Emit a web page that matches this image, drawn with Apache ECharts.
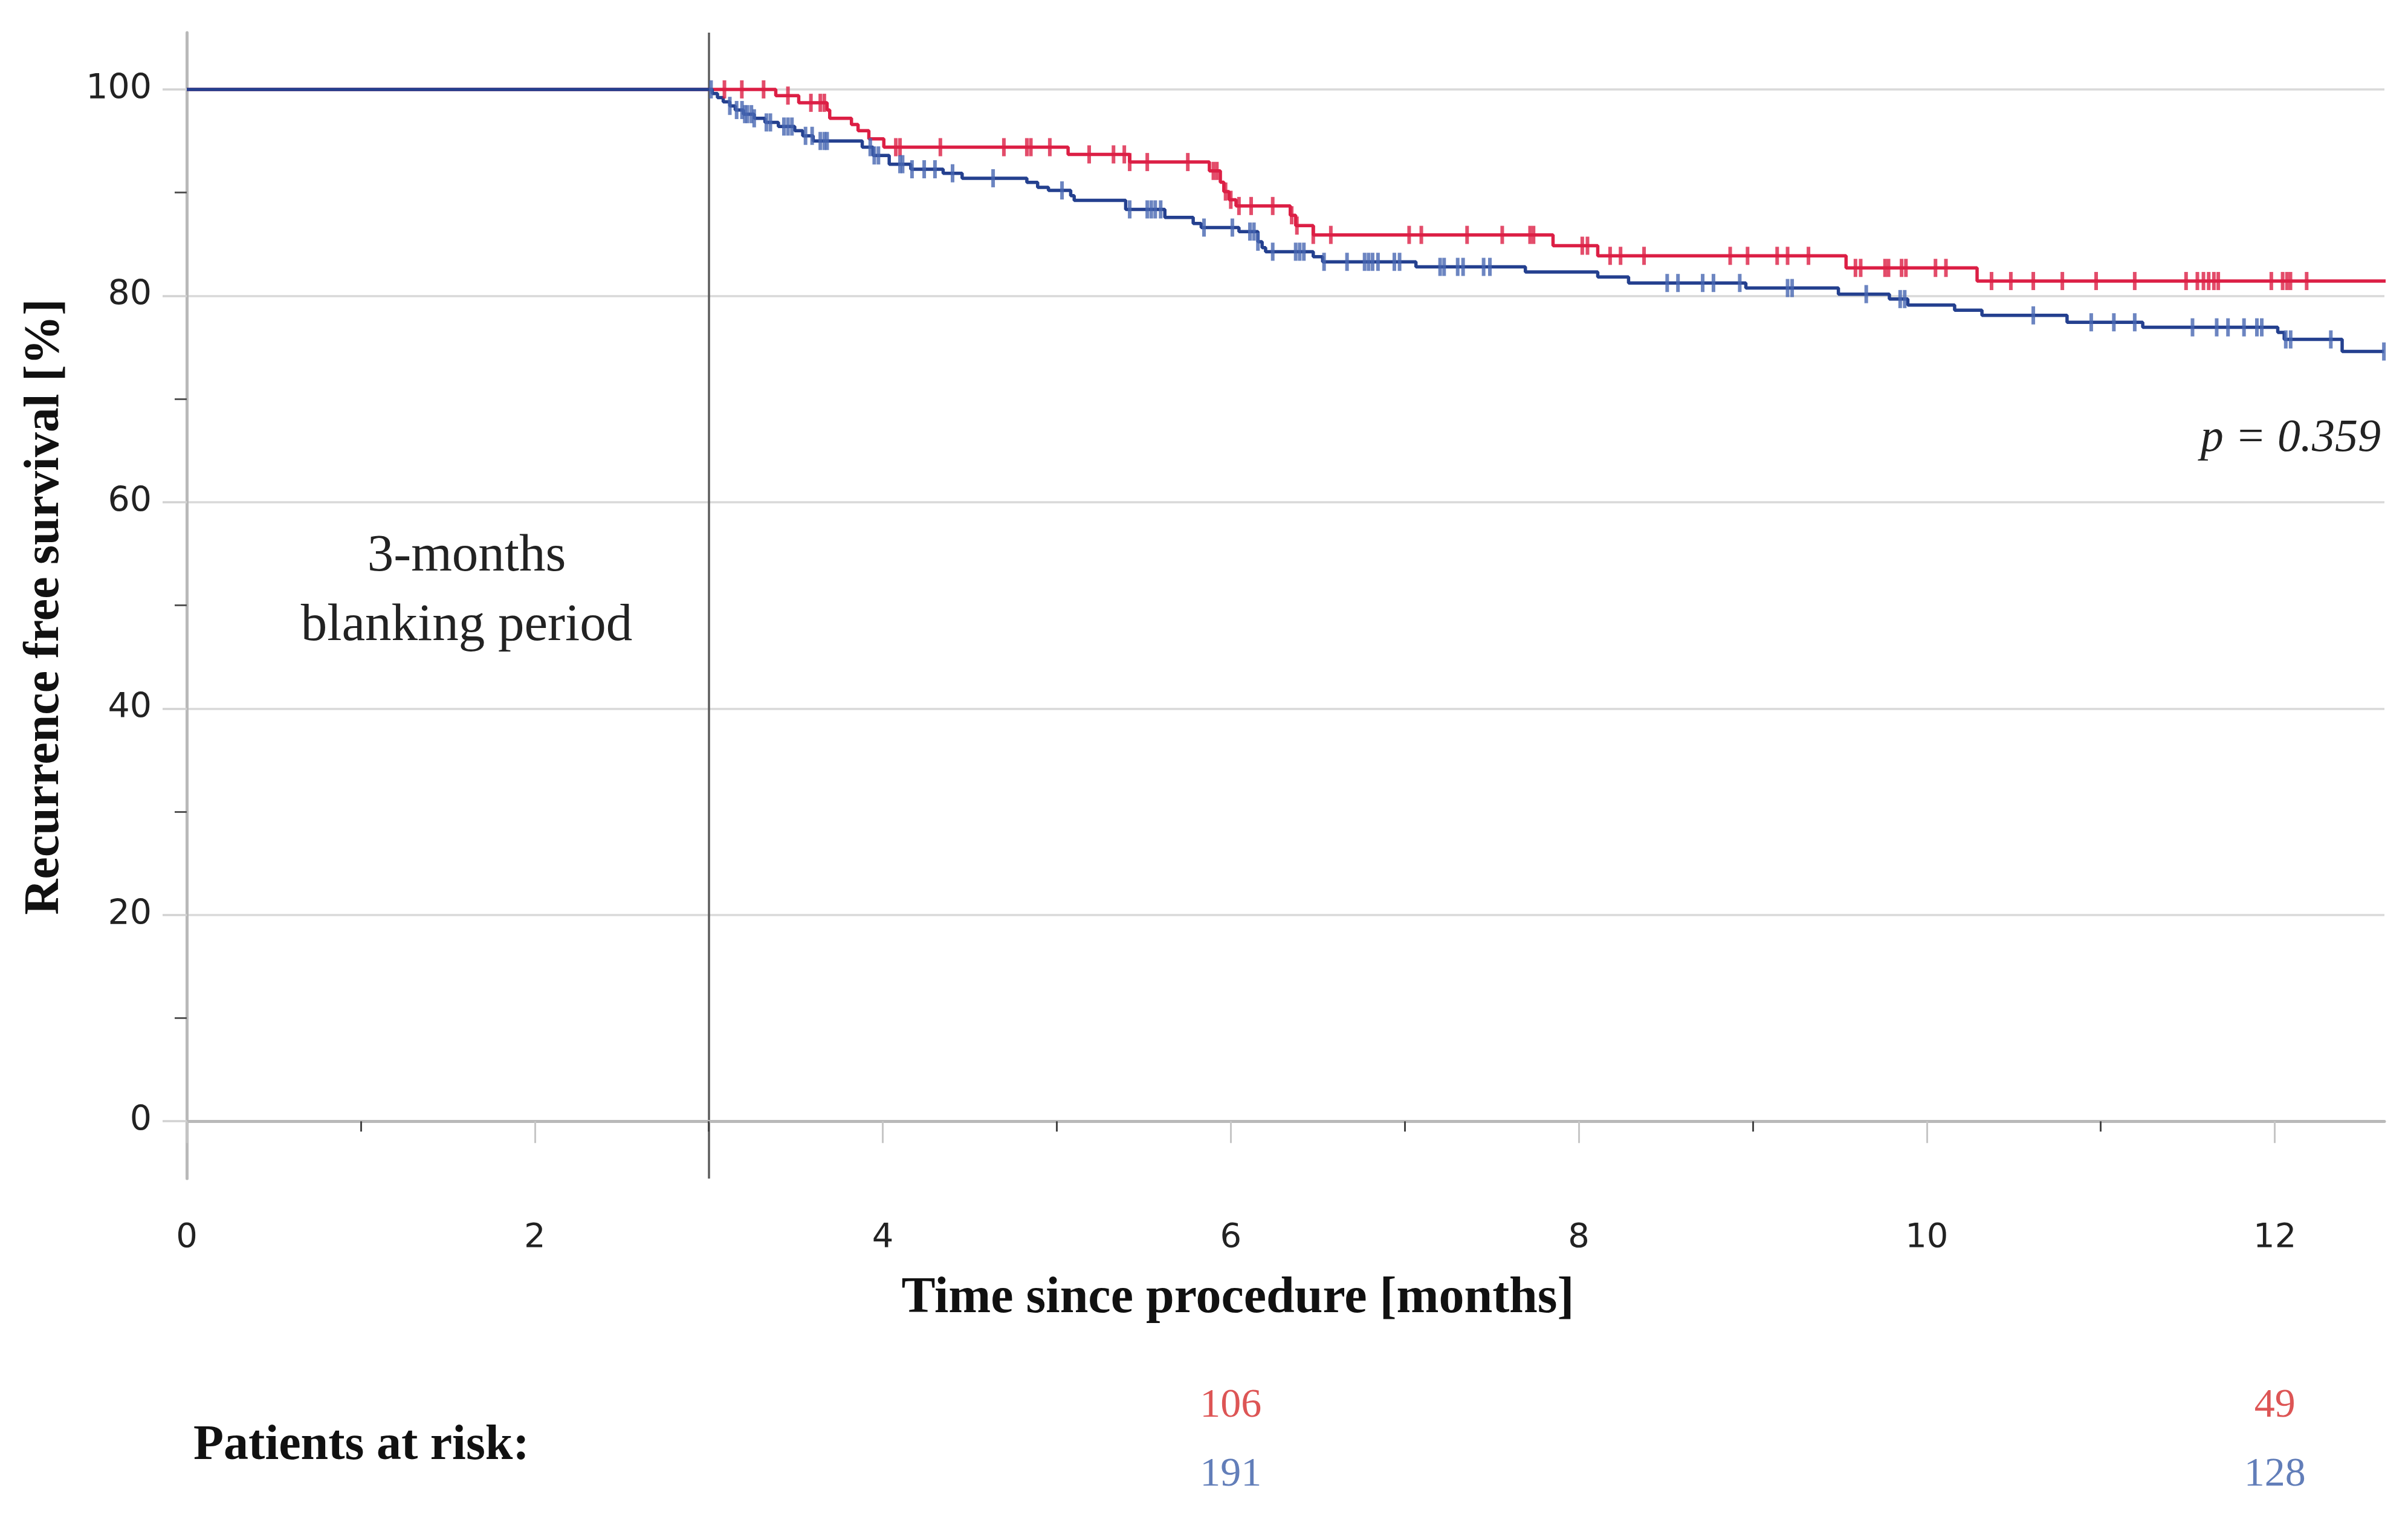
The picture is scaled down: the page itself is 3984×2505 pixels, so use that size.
<!DOCTYPE html>
<html><head><meta charset="utf-8">
<script src="https://cdn.jsdelivr.net/npm/echarts@6/dist/echarts.min.js"></script>
<style>html,body{margin:0;padding:0;background:#fff}#c{width:3984px;height:2505px}</style>
</head><body><div id="c"></div>
<script>
// ---- data ----
const xMajorTicks = [0, 2, 4, 6, 8, 10, 12];
const xMinorTicks = [1, 3, 5, 7, 9, 11];
const yMajorTicks = [0, 20, 40, 60, 80, 100];
const yMinorTicks = [10, 30, 50, 70, 90];
const blankingEnd = 3;

// Kaplan-Meier steps [month, survival % after event]
const redSteps = [
  [0, 100], [3.385, 99.4], [3.517, 98.7], [3.68, 98.0], [3.695, 97.2], [3.82, 96.6],
  [3.858, 96.0], [3.92, 95.2], [4.006, 94.4], [5.065, 93.7], [5.419, 92.96],
  [5.877, 92.1], [5.94, 91.0], [5.96, 90.1], [5.99, 89.3], [6.03, 88.7],
  [6.342, 87.8], [6.373, 86.8], [6.474, 85.9], [7.852, 84.85], [8.109, 83.87],
  [9.536, 82.7], [10.289, 81.43], [12.637, 81.43]
];
const redCensors = [
  3.09, 3.19, 3.315, 3.455, 3.587, 3.641, 3.664, 4.075, 4.099, 4.331, 4.696, 4.828,
  4.851, 4.96, 5.186, 5.326, 5.388, 5.419, 5.52, 5.753, 5.9, 5.92, 5.97, 6.0, 6.047,
  6.117, 6.241, 6.35, 6.38, 6.474, 6.575, 7.025, 7.095, 7.358, 7.56, 7.72, 7.74,
  8.02, 8.05, 8.18, 8.24, 8.375, 8.87, 8.97, 9.14, 9.2, 9.32, 9.59, 9.62, 9.76,
  9.78, 9.855, 9.88, 10.05, 10.11, 10.372, 10.483, 10.612, 10.779, 10.973, 11.195,
  11.49, 11.555, 11.59, 11.62, 11.65, 11.675, 11.98, 12.045, 12.07, 12.09, 12.183, 12.637
];
const blueSteps = [
  [0, 100], [3.02, 99.6], [3.05, 99.2], [3.083, 98.8], [3.121, 98.4], [3.152, 98.0],
  [3.199, 97.6], [3.261, 97.2], [3.323, 96.8], [3.4, 96.4], [3.494, 96.0],
  [3.54, 95.5], [3.6, 95.0], [3.882, 94.4], [3.944, 93.6], [4.037, 92.75],
  [4.161, 92.26], [4.347, 91.87], [4.456, 91.39], [4.828, 90.99], [4.89, 90.51],
  [4.952, 90.21], [5.08, 89.7], [5.1, 89.24], [5.396, 88.37], [5.621, 87.59],
  [5.784, 87.0], [5.83, 86.61], [6.047, 86.22], [6.156, 85.24], [6.18, 84.66],
  [6.2, 84.27], [6.474, 83.78], [6.528, 83.29], [7.064, 82.8], [7.693, 82.31],
  [8.109, 81.82], [8.286, 81.24], [8.96, 80.75], [9.492, 80.16], [9.785, 79.68],
  [9.891, 79.1], [10.16, 78.6], [10.317, 78.1], [10.806, 77.43], [11.241, 76.94],
  [12.017, 76.45], [12.054, 75.77], [12.387, 74.6], [12.627, 74.6]
];
const blueCensors = [
  3.013, 3.121, 3.16, 3.191, 3.207, 3.222, 3.245, 3.261, 3.331, 3.354, 3.432, 3.455,
  3.478, 3.556, 3.594, 3.641, 3.664, 3.68, 3.928, 3.951, 3.975, 4.099, 4.114, 4.168,
  4.238, 4.3, 4.401, 4.634, 5.03, 5.419, 5.52, 5.543, 5.566, 5.597, 5.846, 6.009,
  6.11, 6.133, 6.156, 6.241, 6.373, 6.396, 6.42, 6.536, 6.668, 6.769, 6.792, 6.815,
  6.846, 6.94, 6.97, 7.203, 7.226, 7.304, 7.335, 7.453, 7.489, 8.508, 8.57, 8.712,
  8.774, 8.925, 9.2, 9.226, 9.652, 9.847, 9.873, 10.612, 10.945, 11.075, 11.195,
  11.527, 11.666, 11.731, 11.823, 11.897, 11.925, 12.063, 12.091, 12.322, 12.627
];
const riskTimes = [6, 12];
const riskRed = [106, 49];
const riskBlue = [191, 128];
const pValueText = 'p = 0.359';
const blankingText = ['3-months', 'blanking period'];
const yTitle = 'Recurrence free survival [%]';
const xTitle = 'Time since procedure [months]';
const riskTitle = 'Patients at risk:';

// ---- styles ----
const RED = '#dc1f45';
const BLUE_LINE = '#24408f';
const BLUE_MARK = '#4766b2';
const SERIF = '"Liberation Serif", "DejaVu Serif", serif';
const SANS = '"DejaVu Sans", "Liberation Sans", sans-serif';
const X_MAX = 12.63, Y_MIN = -5.55, Y_MAX = 105.5;

function survAt(steps, t) {
  let v = steps[0][1];
  for (const s of steps) { if (s[0] <= t) v = s[1]; else break; }
  return v;
}

const chart = echarts.init(document.getElementById('c'), null, {renderer: 'canvas'});

const axisLineStyle = {color: '#b9b9b9', width: 5};

chart.setOption({
  animation: false,
  backgroundColor: '#ffffff',
  grid: [
    {left: 309, right: 39, top: 54, bottom: 555, containLabel: false},
    {left: 309, right: 39, top: 2326, height: 114, containLabel: false}
  ],
  xAxis: [
    {type: 'value', gridIndex: 0, min: 0, max: X_MAX, position: 'bottom', z: 3,
     axisLine: {show: true, lineStyle: axisLineStyle},
     axisTick: {show: true, customValues: xMajorTicks, length: 36, lineStyle: {color: '#c6c6c6', width: 3}},
     axisLabel: {show: true, customValues: xMajorTicks, margin: 70, fontSize: 56, color: '#222', fontFamily: SANS},
     splitLine: {show: false}},
    {type: 'value', gridIndex: 0, min: 0, max: X_MAX, position: 'bottom', z: 3,
     axisLine: {show: false},
     axisTick: {show: true, customValues: xMinorTicks, length: 17, lineStyle: {color: '#444', width: 3}},
     axisLabel: {show: false}, splitLine: {show: false}},
    {type: 'value', gridIndex: 1, min: 0, max: X_MAX, show: false}
  ],
  yAxis: [
    {type: 'value', gridIndex: 0, min: Y_MIN, max: Y_MAX, position: 'left', z: 3,
     axisLine: {show: true, lineStyle: axisLineStyle},
     axisTick: {show: true, customValues: yMajorTicks, length: 40, lineStyle: {color: '#d2d2d2', width: 3.5}},
     axisLabel: {show: true, customValues: yMajorTicks, margin: 58, fontSize: 57, color: '#222', fontFamily: SANS},
     splitLine: {show: false}},
    {type: 'value', gridIndex: 0, min: Y_MIN, max: Y_MAX, position: 'left', z: 3,
     axisLine: {show: false},
     axisTick: {show: true, customValues: yMinorTicks, length: 20, lineStyle: {color: '#555', width: 3}},
     axisLabel: {show: false}, splitLine: {show: false}},
    {type: 'value', gridIndex: 1, min: 1, max: 2, inverse: true, show: false}
  ],
  series: [
    {name: 'grid', type: 'line', xAxisIndex: 0, yAxisIndex: 0, data: [], z: 1, silent: true,
     markLine: {silent: true, z: 1, symbol: ['none', 'none'], label: {show: false}, animation: false,
       lineStyle: {color: '#d9d9d9', width: 3.5, type: 'solid'},
       data: yMajorTicks.map(v => ({yAxis: v}))}},
    {name: 'blanking', type: 'line', xAxisIndex: 0, yAxisIndex: 0, data: [], z: 2, silent: true,
     markLine: {silent: true, z: 2, symbol: ['none', 'none'], label: {show: false}, animation: false,
       lineStyle: {color: '#5c5c5c', width: 3.5, type: 'solid'},
       data: [{xAxis: blankingEnd}]}},
    {name: 'Red', type: 'line', step: 'end', xAxisIndex: 0, yAxisIndex: 0, data: redSteps,
     showSymbol: false, symbol: 'none', z: 4, lineStyle: {color: RED, width: 5.5}},
    {name: 'Blue', type: 'line', step: 'end', xAxisIndex: 0, yAxisIndex: 0, data: blueSteps,
     showSymbol: false, symbol: 'none', z: 5, lineStyle: {color: BLUE_LINE, width: 5.5}},
    {name: 'Red censored', type: 'scatter', xAxisIndex: 0, yAxisIndex: 0, z: 6,
     data: redCensors.map(t => [t, survAt(redSteps, t)]),
     symbol: 'rect', symbolSize: [6, 30], itemStyle: {color: RED}},
    {name: 'Blue censored', type: 'scatter', xAxisIndex: 0, yAxisIndex: 0, z: 7,
     data: blueCensors.map(t => [t, survAt(blueSteps, t)]),
     symbol: 'rect', symbolSize: [6, 30], itemStyle: {color: BLUE_MARK}},
    {name: 'Risk red', type: 'scatter', xAxisIndex: 2, yAxisIndex: 2,
     data: riskTimes.map((t, i) => [t, 1, riskRed[i]]),
     symbolSize: 1, itemStyle: {color: 'rgba(0,0,0,0)'},
     label: {show: true, position: 'inside', formatter: p => String(p.value[2]),
       color: '#d42a2a', fontSize: 68, fontFamily: SERIF}},
    {name: 'Risk blue', type: 'scatter', xAxisIndex: 2, yAxisIndex: 2,
     data: riskTimes.map((t, i) => [t, 2, riskBlue[i]]),
     symbolSize: 1, itemStyle: {color: 'rgba(0,0,0,0)'},
     label: {show: true, position: 'inside', formatter: p => String(p.value[2]),
       color: '#3b5ea8', fontSize: 68, fontFamily: SERIF}}
  ],
  graphic: [
    {type: 'text', x: 75, y: 1004, rotation: Math.PI / 2, silent: true,
     style: {text: yTitle, fill: '#111', fontSize: 82, fontWeight: 'bold', fontFamily: SERIF, align: 'center', verticalAlign: 'middle'}},
    {type: 'text', x: 2048, y: 2149, silent: true,
     style: {text: xTitle, fill: '#111', fontSize: 84, fontWeight: 'bold', fontFamily: SERIF, align: 'center', verticalAlign: 'middle'}},
    {type: 'text', x: 772, y: 921, silent: true,
     style: {text: blankingText[0], fill: '#222', fontSize: 87, fontFamily: SERIF, align: 'center', verticalAlign: 'middle'}},
    {type: 'text', x: 772, y: 1036, silent: true,
     style: {text: blankingText[1], fill: '#222', fontSize: 87, fontFamily: SERIF, align: 'center', verticalAlign: 'middle'}},
    {type: 'text', x: 3939, y: 726, silent: true,
     style: {text: pValueText, fill: '#222', fontSize: 76, fontStyle: 'italic', fontFamily: SERIF, align: 'right', verticalAlign: 'middle'}},
    {type: 'text', x: 320, y: 2393, silent: true,
     style: {text: riskTitle, fill: '#111', fontSize: 82, fontWeight: 'bold', fontFamily: SERIF, align: 'left', verticalAlign: 'middle'}}
  ]
});
</script></body></html>
